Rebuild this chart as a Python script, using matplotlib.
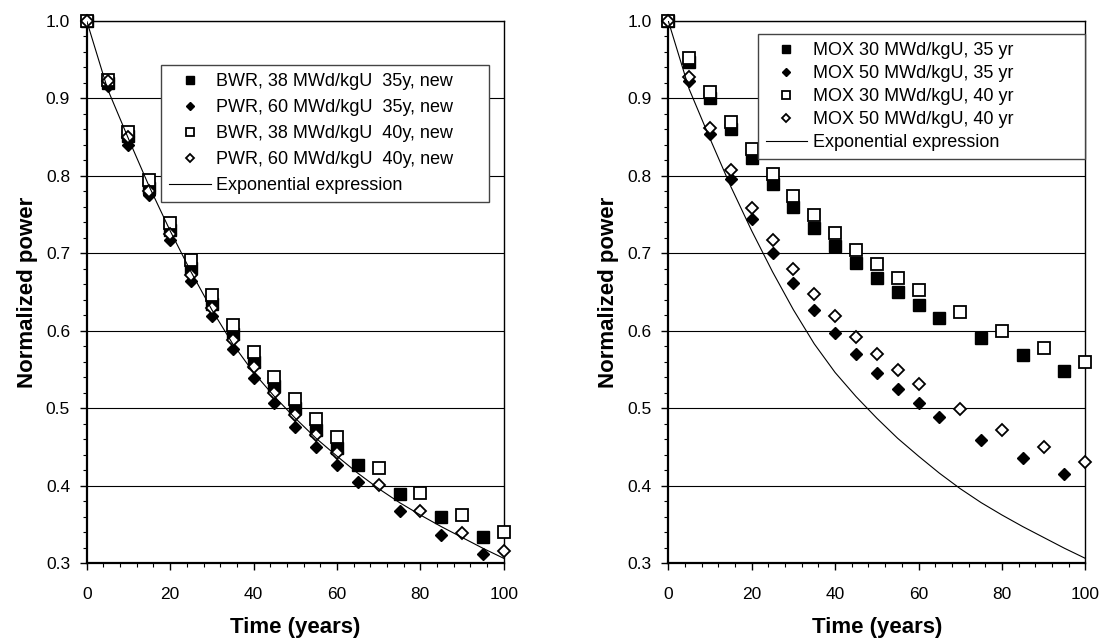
import numpy as np
import matplotlib.pyplot as plt
from matplotlib.ticker import MultipleLocator, FormatStrFormatter

plt.rcParams['font.family'] = ['Liberation Sans', 'DejaVu Sans']

# Zeitpunkte (Jahre): 35-Jahres-Reihen und 40-Jahres-Reihen
t35 = [0, 5, 10, 15, 20, 25, 30, 35, 40, 45, 50, 55, 60, 65, 75, 85, 95]
t40 = [0, 5, 10, 15, 20, 25, 30, 35, 40, 45, 50, 55, 60, 70, 80, 90, 100]

# linkes Diagramm
bwr_35 = [1.0, 0.920, 0.851, 0.784, 0.730, 0.681, 0.634, 0.596, 0.560, 0.528,
          0.500, 0.472, 0.449, 0.426, 0.389, 0.359, 0.334]
pwr_35 = [1.0, 0.916, 0.840, 0.775, 0.717, 0.664, 0.619, 0.576, 0.539, 0.507,
          0.476, 0.450, 0.426, 0.405, 0.367, 0.336, 0.312]
bwr_40 = [1.0, 0.924, 0.856, 0.795, 0.739, 0.691, 0.646, 0.607, 0.572, 0.540,
          0.512, 0.486, 0.463, 0.423, 0.390, 0.362, 0.340]
pwr_40 = [1.0, 0.922, 0.850, 0.780, 0.725, 0.672, 0.629, 0.588, 0.553, 0.520,
          0.491, 0.465, 0.442, 0.401, 0.367, 0.339, 0.316]

# rechtes Diagramm
mox30_35 = [1.0, 0.947, 0.901, 0.860, 0.823, 0.790, 0.760, 0.733, 0.710, 0.687,
            0.668, 0.650, 0.633, 0.617, 0.591, 0.568, 0.548]
mox50_35 = [1.0, 0.922, 0.854, 0.796, 0.744, 0.700, 0.661, 0.627, 0.597, 0.570,
            0.546, 0.525, 0.506, 0.489, 0.459, 0.435, 0.415]
mox30_40 = [1.0, 0.952, 0.908, 0.870, 0.835, 0.803, 0.774, 0.749, 0.726, 0.704,
            0.686, 0.668, 0.652, 0.624, 0.600, 0.578, 0.560]
mox50_40 = [1.0, 0.927, 0.862, 0.808, 0.759, 0.717, 0.680, 0.647, 0.619, 0.592,
            0.570, 0.549, 0.531, 0.499, 0.472, 0.450, 0.431]

# Exponentialausdruck
exp_t = [0, 5, 10, 15, 20, 25, 30, 35, 40, 45, 50, 55, 60, 65, 70, 75, 80,
         85, 90, 95, 100]
exp_val = [1.0, 0.912, 0.848, 0.786, 0.729, 0.676, 0.627, 0.583, 0.546, 0.515,
           0.487, 0.461, 0.438, 0.416, 0.396, 0.378, 0.362, 0.347, 0.333,
           0.319, 0.306]

labels_l = ["BWR, 38 MWd/kgU  35y, new", "PWR, 60 MWd/kgU  35y, new",
            "BWR, 38 MWd/kgU  40y, new", "PWR, 60 MWd/kgU  40y, new"]
labels_r = ["MOX 30 MWd/kgU, 35 yr", "MOX 50 MWd/kgU, 35 yr",
            "MOX 30 MWd/kgU, 40 yr", "MOX 50 MWd/kgU, 40 yr"]

stil = [dict(marker="s", ms=8, mfc="black", mec="black"),
        dict(marker="D", ms=6, mfc="black", mec="black"),
        dict(marker="s", ms=8, mfc="white", mec="black", mew=1.3),
        dict(marker="D", ms=6, mfc="white", mec="black", mew=1.3)]

fig = plt.figure(figsize=(11.05, 6.41), dpi=100)
ax1 = fig.add_axes([0.0785, 0.1217, 0.3774, 0.8456])
ax2 = fig.add_axes([0.6048, 0.1217, 0.3774, 0.8456])


def panel(ax, serien, labels, leg_anchor, spacing):
    for i, (t, y) in enumerate(serien):
        ax.plot(t, y, ls="none", label=labels[i], clip_on=False,
                zorder=3 + i, **stil[i])
    ax.plot(exp_t, exp_val, color="black", lw=0.8, zorder=10,
            label="Exponential expression")

    ax.set_xlim(0, 100)
    ax.set_ylim(0.3, 1.0)
    ax.xaxis.set_major_locator(MultipleLocator(20))
    ax.xaxis.set_minor_locator(MultipleLocator(4))
    ax.yaxis.set_major_locator(MultipleLocator(0.1))
    ax.yaxis.set_minor_locator(MultipleLocator(0.02))
    ax.yaxis.set_major_formatter(FormatStrFormatter("%.1f"))
    ax.tick_params(which="major", direction="out", length=5, width=1,
                   labelsize=12.5)
    ax.tick_params(axis="x", which="major", pad=12)
    ax.tick_params(axis="y", which="major", pad=7)
    ax.tick_params(which="minor", direction="out", length=3, width=0.8)
    ax.grid(axis="y", which="major", color="black", lw=0.8)
    ax.set_axisbelow(True)

    ax.spines["left"].set_linewidth(1.6)
    ax.spines["bottom"].set_linewidth(1.6)
    ax.spines["top"].set_linewidth(1.0)
    ax.spines["right"].set_linewidth(1.0)

    ax.set_xlabel("Time (years)", fontsize=16, fontweight="bold")
    ax.set_ylabel("Normalized power", fontsize=16, fontweight="bold")
    ax.xaxis.set_label_coords(0.5, -0.10)
    ax.yaxis.set_label_coords(-0.118, 0.5)

    leg = ax.legend(loc="upper left", bbox_to_anchor=leg_anchor, mode="expand",
                    fontsize=13, frameon=True, fancybox=False, framealpha=1,
                    edgecolor="#444444", markerscale=0.75, handlelength=2.3,
                    handletextpad=0.3, labelspacing=spacing, borderpad=0.45,
                    borderaxespad=0)
    leg.get_frame().set_linewidth(1.0)
    leg.set_zorder(20)


panel(ax1, [(t35, bwr_35), (t35, pwr_35), (t40, bwr_40), (t40, pwr_40)],
      labels_l, (0.178, 0.919, 0.787, 0.0), 0.5)
panel(ax2, [(t35, mox30_35), (t35, mox50_35), (t40, mox30_40), (t40, mox50_40)],
      labels_r, (0.214, 0.976, 0.786, 0.0), 0.33)

plt.savefig("out.png", dpi=100)
